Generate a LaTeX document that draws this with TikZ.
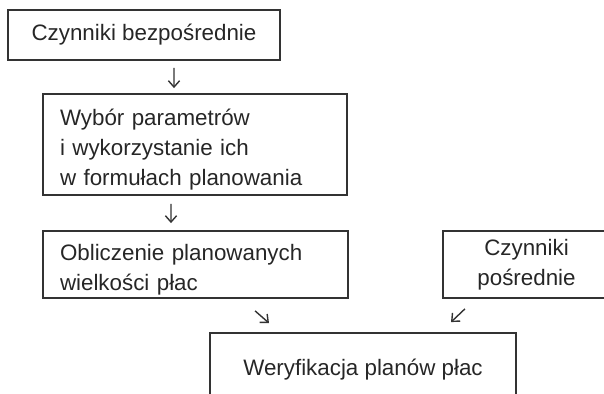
\documentclass[tikz,border=0pt]{standalone}
\usepackage{fontspec}
\setmainfont{Liberation Sans}
\usetikzlibrary{arrows.meta}

\tikzset{
	box/.style={draw=black!80, line width=1.3pt, text=black!85, inner sep=0pt,
		font=\fontsize{15.9}{21.3}\selectfont},
	leftbox/.style={box, align=left, text width=#1},
	lowered/.style={execute at begin node={\rule{0pt}{19pt}}},
	arr/.style={-{Straight Barb[length=4.5pt,width=8pt]}, black!80, line width=1pt}
}

\begin{document}
\begin{tikzpicture}
			\useasboundingbox (0,0) rectangle (15.1,-9.85);
			
			% --- LEFT COLUMN ---
			\node[box, minimum width=6.8cm, minimum height=1.25cm] (direct) at (3.6,-0.875) {Czynniki bezpośrednie};
			\node[leftbox=7.6cm-0.85cm, lowered, minimum width=7.6cm, minimum height=2.525cm, inner xsep=0.425cm] (choice) at (4.875,-3.6125)
				{Wybór parametrów\\i wykorzystanie ich\\w formułach planowania};
			\node[leftbox=7.625cm-0.85cm, lowered, minimum width=7.625cm, minimum height=1.675cm, inner xsep=0.425cm] (calc) at (4.8875,-6.6125)
				{Obliczenie planowanych\\wielkości płac};
			
			% --- RIGHT SIDE ---
			\node[box, lowered, align=center, minimum width=4.175cm, minimum height=1.675cm] (indirect) at (13.1625,-6.6125)
				{Czynniki\\pośrednie};
			\node[box, minimum width=7.65cm, minimum height=1.85cm] (verify) at (9.075,-9.25) {Weryfikacja planów płac};
			
			% Arrows
			\draw[arr, shorten <=0.175cm, shorten >=0.125cm] ([xshift=0.75cm]direct.south) -- ([xshift=-0.525cm]choice.north);
			\draw[arr, shorten <=0.2cm, shorten >=0.175cm] ([xshift=-0.6cm]choice.south) -- ([xshift=-0.6125cm]calc.north);
			\draw[arr] ([xshift=1.49cm, yshift=-0.3cm]calc.south) -- ([xshift=-2.35cm, yshift=0.225cm]verify.north);
			\draw[arr] ([xshift=-1.54cm, yshift=-0.25cm]indirect.south) -- ([xshift=2.2cm, yshift=0.25cm]verify.north);
		\end{tikzpicture}
\end{document}
